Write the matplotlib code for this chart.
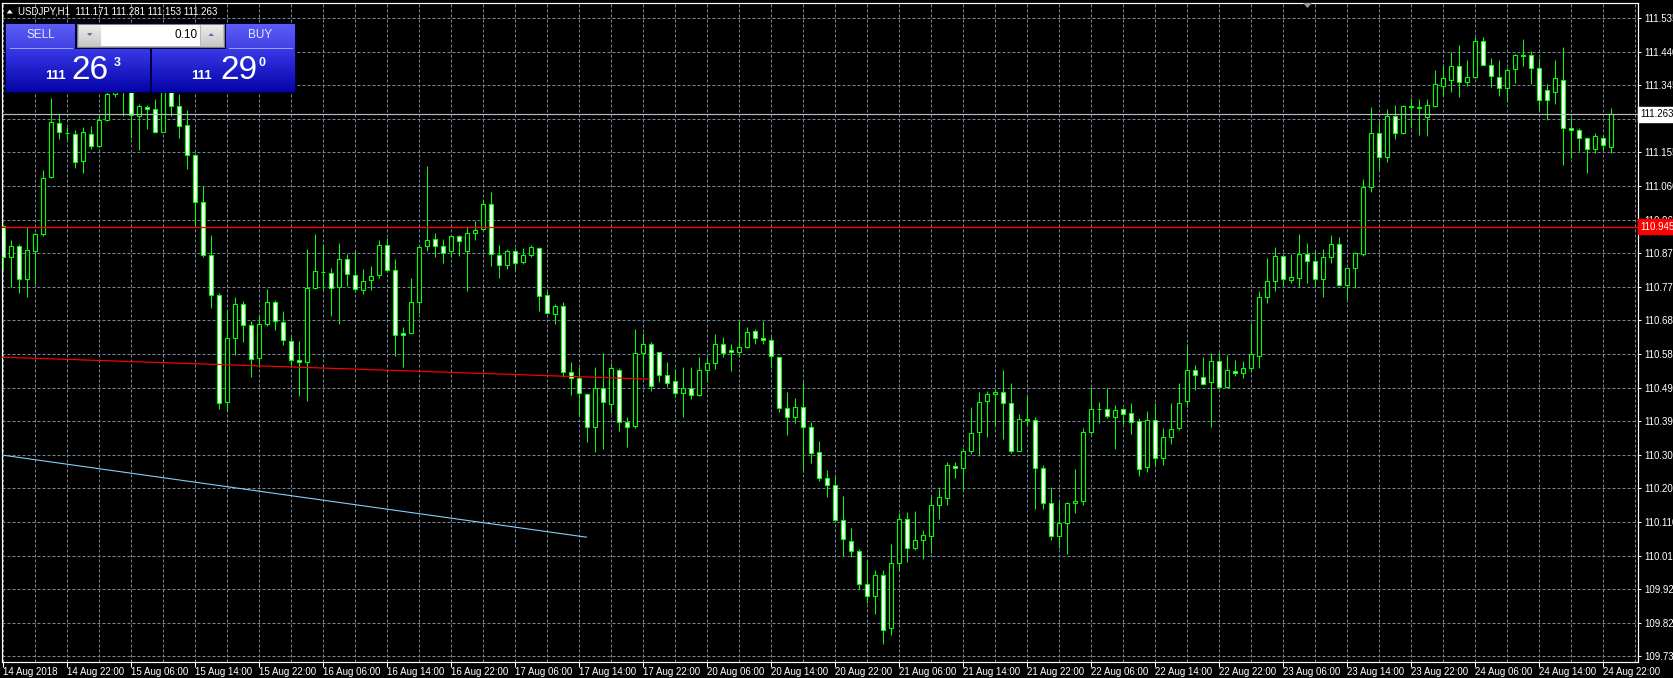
import matplotlib
matplotlib.use('Agg')
import matplotlib.pyplot as plt
import matplotlib.transforms as mtransforms
from matplotlib.patches import Rectangle, Polygon
import numpy as np

plt.rcParams['font.family'] = ['Liberation Sans', 'DejaVu Sans']

W, H, DPI = 1674, 678, 100

# ---------------- data (USDJPY H1, first bar = 14 Aug 2018 14:00) ----------------
opens = [110.946, 110.858, 110.891, 110.797, 110.876, 110.925, 111.085, 111.239, 111.210, 111.208,
         111.130, 111.208, 111.174, 111.247, 111.321, 111.360, 111.330, 111.258, 111.284, 111.278,
         111.212, 111.325, 111.287, 111.233, 111.148, 111.016, 110.866, 110.753, 110.450, 110.630,
         110.725, 110.666, 110.575, 110.671, 110.731, 110.676, 110.621, 110.568, 110.562, 110.771,
         110.818, 110.813, 110.773, 110.853, 110.808, 110.767, 110.794, 110.807, 110.892, 110.822,
         110.644, 110.644, 110.733, 110.890, 110.909, 110.890, 110.876, 110.918, 110.876, 110.926,
         110.938, 111.008, 110.864, 110.836, 110.876, 110.844, 110.864, 110.884, 110.751, 110.698,
         110.721, 110.533, 110.516, 110.473, 110.378, 110.488, 110.443, 110.539, 110.392, 110.380,
         110.589, 110.612, 110.590, 110.525, 110.508, 110.474, 110.488, 110.468, 110.539, 110.559,
         110.612, 110.595, 110.592, 110.606, 110.649, 110.629, 110.624, 110.576, 110.432, 110.406,
         110.434, 110.378, 110.307, 110.234, 110.214, 110.115, 110.057, 110.029, 109.935, 109.900,
         109.960, 109.810, 109.995, 110.119, 110.037, 110.060, 110.071, 110.159, 110.178, 110.269,
         110.263, 110.311, 110.365, 110.452, 110.472, 110.478, 110.447, 110.311, 110.402, 110.399,
         110.263, 110.164, 110.071, 110.108, 110.164, 110.170, 110.365, 110.430, 110.430, 110.407,
         110.430, 110.418, 110.395, 110.265, 110.397, 110.290, 110.350, 110.375, 110.452, 110.539,
         110.519, 110.507, 110.564, 110.493, 110.537, 110.531, 110.544, 110.578, 110.747, 110.790,
         110.863, 110.794, 110.799, 110.867, 110.847, 110.796, 110.858, 110.895, 110.781, 110.827,
         110.867, 111.056, 111.209, 111.141, 111.257, 111.210, 111.287, 111.282, 111.256, 111.286,
         111.343, 111.360, 111.398, 111.354, 111.367, 111.471, 111.403, 111.369, 111.336, 111.392,
         111.429, 111.429, 111.395, 111.330, 111.327, 111.361, 111.223, 111.217, 111.197, 111.166,
         111.197, 111.171]
highs = [110.949, 110.908, 110.897, 110.944, 110.927, 111.106, 111.309, 111.264, 111.226, 111.217,
         111.226, 111.230, 111.264, 111.340, 111.400, 111.390, 111.350, 111.292, 111.290, 111.306,
         111.345, 111.350, 111.319, 111.274, 111.153, 111.059, 110.921, 110.758, 110.710, 110.745,
         110.735, 110.679, 110.694, 110.770, 110.737, 110.707, 110.632, 110.622, 110.882, 110.923,
         110.895, 110.829, 110.899, 110.867, 110.876, 110.826, 110.833, 110.908, 110.912, 110.853,
         110.662, 110.801, 110.889, 111.116, 110.927, 110.910, 110.920, 110.922, 110.946, 110.961,
         111.019, 111.042, 110.892, 110.882, 110.884, 110.884, 110.892, 110.888, 110.764, 110.727,
         110.733, 110.562, 110.549, 110.475, 110.547, 110.587, 110.559, 110.544, 110.406, 110.655,
         110.643, 110.618, 110.592, 110.562, 110.543, 110.547, 110.547, 110.576, 110.577, 110.641,
         110.632, 110.612, 110.680, 110.660, 110.657, 110.677, 110.632, 110.577, 110.477, 110.460,
         110.505, 110.392, 110.338, 110.257, 110.240, 110.183, 110.092, 110.035, 110.002, 109.975,
         109.975, 110.049, 110.134, 110.138, 110.142, 110.088, 110.180, 110.210, 110.279, 110.281,
         110.320, 110.436, 110.478, 110.481, 110.487, 110.540, 110.504, 110.416, 110.466, 110.408,
         110.270, 110.210, 110.167, 110.167, 110.260, 110.376, 110.492, 110.450, 110.490, 110.441,
         110.433, 110.446, 110.405, 110.423, 110.446, 110.376, 110.446, 110.503, 110.610, 110.555,
         110.576, 110.587, 110.592, 110.583, 110.569, 110.566, 110.674, 110.762, 110.856, 110.887,
         110.865, 110.867, 110.923, 110.898, 110.879, 110.881, 110.921, 110.915, 110.829, 110.872,
         111.081, 111.282, 111.240, 111.279, 111.288, 111.289, 111.310, 111.305, 111.305, 111.389,
         111.402, 111.438, 111.458, 111.416, 111.480, 111.480, 111.421, 111.415, 111.395, 111.434,
         111.477, 111.443, 111.423, 111.347, 111.415, 111.454, 111.254, 111.223, 111.199, 111.211,
         111.203, 111.281]
lows = [110.826, 110.775, 110.758, 110.747, 110.782, 110.920, 111.083, 111.192, 111.192, 111.110,
        111.098, 111.164, 111.170, 111.245, 111.313, 111.257, 111.196, 111.161, 111.221, 111.210,
        111.212, 111.258, 111.196, 111.108, 110.944, 110.858, 110.716, 110.430, 110.425, 110.582,
        110.620, 110.521, 110.549, 110.664, 110.654, 110.611, 110.547, 110.467, 110.451, 110.769,
        110.768, 110.693, 110.671, 110.778, 110.759, 110.756, 110.765, 110.801, 110.818, 110.580,
        110.549, 110.643, 110.700, 110.875, 110.860, 110.841, 110.860, 110.861, 110.762, 110.907,
        110.935, 110.833, 110.801, 110.825, 110.824, 110.839, 110.858, 110.707, 110.700, 110.669,
        110.519, 110.469, 110.413, 110.337, 110.309, 110.317, 110.417, 110.366, 110.323, 110.375,
        110.519, 110.481, 110.507, 110.491, 110.463, 110.406, 110.457, 110.465, 110.505, 110.542,
        110.577, 110.538, 110.576, 110.603, 110.612, 110.612, 110.544, 110.422, 110.355, 110.389,
        110.251, 110.278, 110.225, 110.180, 110.114, 110.013, 110.011, 109.920, 109.880, 109.850,
        109.765, 109.790, 109.973, 109.997, 110.030, 110.005, 110.022, 110.118, 110.158, 110.234,
        110.201, 110.301, 110.296, 110.350, 110.381, 110.344, 110.305, 110.310, 110.382, 110.146,
        110.146, 110.060, 110.037, 110.020, 110.135, 110.159, 110.359, 110.389, 110.404, 110.317,
        110.387, 110.360, 110.240, 110.250, 110.270, 110.270, 110.330, 110.371, 110.434, 110.482,
        110.497, 110.379, 110.486, 110.491, 110.522, 110.516, 110.533, 110.544, 110.729, 110.762,
        110.776, 110.785, 110.773, 110.787, 110.778, 110.746, 110.842, 110.778, 110.740, 110.771,
        110.863, 111.044, 111.107, 111.129, 111.194, 111.207, 111.225, 111.204, 111.201, 111.282,
        111.314, 111.326, 111.312, 111.343, 111.365, 111.401, 111.340, 111.315, 111.298, 111.352,
        111.400, 111.347, 111.274, 111.248, 111.293, 111.120, 111.140, 111.158, 111.097, 111.152,
        111.158, 111.153]
closes = [110.858, 110.891, 110.797, 110.880, 110.925, 111.083, 111.242, 111.212, 111.209, 111.129,
          111.213, 111.174, 111.247, 111.321, 111.360, 111.330, 111.260, 111.287, 111.278, 111.212,
          111.325, 111.287, 111.230, 111.148, 111.016, 110.866, 110.753, 110.445, 110.630, 110.726,
          110.666, 110.572, 110.671, 110.731, 110.677, 110.624, 110.568, 110.562, 110.771, 110.819,
          110.816, 110.771, 110.853, 110.811, 110.768, 110.791, 110.805, 110.892, 110.822, 110.638,
          110.638, 110.732, 110.887, 110.907, 110.890, 110.870, 110.918, 110.904, 110.926, 110.935,
          111.008, 110.867, 110.836, 110.876, 110.842, 110.864, 110.887, 110.748, 110.700, 110.720,
          110.533, 110.516, 110.474, 110.378, 110.488, 110.449, 110.544, 110.392, 110.378, 110.587,
          110.612, 110.494, 110.525, 110.502, 110.474, 110.488, 110.468, 110.539, 110.559, 110.612,
          110.587, 110.590, 110.606, 110.646, 110.629, 110.624, 110.578, 110.432, 110.406, 110.434,
          110.378, 110.305, 110.234, 110.214, 110.115, 110.062, 110.029, 109.935, 109.900, 109.960,
          109.805, 109.995, 110.119, 110.037, 110.060, 110.074, 110.159, 110.181, 110.272, 110.263,
          110.311, 110.362, 110.449, 110.472, 110.478, 110.447, 110.311, 110.402, 110.399, 110.263,
          110.164, 110.071, 110.108, 110.164, 110.170, 110.365, 110.430, 110.429, 110.410, 110.427,
          110.416, 110.392, 110.260, 110.397, 110.290, 110.350, 110.374, 110.446, 110.539, 110.525,
          110.500, 110.564, 110.493, 110.541, 110.531, 110.544, 110.586, 110.746, 110.790, 110.863,
          110.796, 110.802, 110.867, 110.847, 110.796, 110.858, 110.895, 110.779, 110.827, 110.870,
          111.056, 111.209, 111.141, 111.257, 111.211, 111.285, 111.282, 111.281, 111.290, 111.347,
          111.364, 111.398, 111.354, 111.367, 111.471, 111.403, 111.372, 111.336, 111.389, 111.429,
          111.428, 111.395, 111.304, 111.304, 111.364, 111.223, 111.217, 111.197, 111.166, 111.200,
          111.175, 111.263]

title_text = "USDJPY,H1  111.171 111.281 111.153 111.263"
price_levels = [111.535, 111.440, 111.345, 111.250, 111.155, 111.060, 110.965, 110.870, 110.775,
                110.680, 110.585, 110.490, 110.395, 110.300, 110.205, 110.110, 110.015, 109.920,
                109.825, 109.730]
xtick_labels = ["14 Aug 2018", "14 Aug 22:00", "15 Aug 06:00", "15 Aug 14:00", "15 Aug 22:00",
                "16 Aug 06:00", "16 Aug 14:00", "16 Aug 22:00", "17 Aug 06:00", "17 Aug 14:00",
                "17 Aug 22:00", "20 Aug 06:00", "20 Aug 14:00", "20 Aug 22:00", "21 Aug 06:00",
                "21 Aug 14:00", "21 Aug 22:00", "22 Aug 06:00", "22 Aug 14:00", "22 Aug 22:00",
                "23 Aug 06:00", "23 Aug 14:00", "23 Aug 22:00", "24 Aug 06:00", "24 Aug 14:00",
                "24 Aug 22:00"]
red_level = 110.945
bid_price = 111.263
red_trend_x = [-0.16, 80.8]
red_trend_y = [110.576, 110.514]
blue_trend_x = [-0.41, 72.9]
blue_trend_y = [110.300, 110.067]
lot_text = "0.10"
sell_parts = ("111", "26", "3")
buy_parts = ("111", "29", "0")

# ---------------- figure ----------------
PX = 72.0 / DPI  # one pixel in points
fig = plt.figure(figsize=(W / DPI, H / DPI), dpi=DPI, facecolor='black')
ax = fig.add_axes([2 / W, 1 - 662 / H, (1638 - 2) / W, (662 - 3) / H])
ax.set_facecolor('black')

o = np.array(opens); h = np.array(highs); l = np.array(lows); c = np.array(closes)
idx = np.arange(len(o))
bull = c >= o
lime = '#00ff00'

ax.vlines(idx, l, h, color=lime, lw=1.0 * PX, zorder=3)
ax.bar(idx, np.abs(c - o), bottom=np.minimum(o, c), width=0.5,
       color=np.where(bull, 'black', 'white'), edgecolor=lime, linewidth=1.1 * PX, zorder=4)

ax.set_xlim(-0.1625, 204.34)
ax.set_ylim(109.7141, 111.5774)

# lines
ax.axhline(red_level, color='#ff0000', lw=1.3 * PX, zorder=5)
ax.axhline(bid_price, color='#b8b8c0', lw=1.2 * PX, zorder=5)
ax.plot(red_trend_x, red_trend_y, color='#ff0000', lw=1.2 * PX, zorder=5)
ax.plot(blue_trend_x, blue_trend_y, color='#87cefa', lw=1.1 * PX, zorder=5)

# ticks / grid
ax.yaxis.tick_right()
ax.set_yticks(price_levels)
ax.set_yticklabels([f"{p:.3f}" for p in price_levels])
label_idx = list(range(0, 8 * len(xtick_labels), 8))
ax.set_xticks(label_idx)
ax.set_xticklabels(xtick_labels, ha='left')
ax.set_xticks(list(range(4, 205, 8)), minor=True)
ax.tick_params(axis='y', which='major', direction='out', length=3 * PX, width=1 * PX,
               color='white', labelcolor='white', labelsize=7, pad=2.5)
ax.tick_params(axis='x', which='major', direction='out', length=4.5 * PX, width=1 * PX,
               color='white', labelcolor='white', labelsize=7, pad=0.5)
ax.tick_params(axis='x', which='minor', length=0)
ax.grid(True, which='both', color='#778899', lw=1 * PX, linestyle=(0, (3, 2)))
ax.set_axisbelow(True)
for s in ax.spines.values():
    s.set_color('white')
    s.set_linewidth(1.2 * PX)

# price labels on the right axis
blend = mtransforms.blended_transform_factory(ax.transAxes, ax.transData)
ax.text(1.0015, red_level, "110.945", transform=blend, ha='left', va='center', color='white',
        fontsize=7, clip_on=False, zorder=20,
        bbox=dict(boxstyle='square,pad=0.25', fc='#ff0000', ec='#ff0000'))
ax.text(1.0015, bid_price, "111.263", transform=blend, ha='left', va='center', color='black',
        fontsize=7, clip_on=False, zorder=20,
        bbox=dict(boxstyle='square,pad=0.25', fc='white', ec='white'))

# ---------------- overlay (title + one-click panel) ----------------
ov = fig.add_axes([0, 0, 1, 1])
ov.set_zorder(10)
ov.patch.set_alpha(0)
ov.axis('off')


def grad(x0, y0, x1, y1, ctop, cbot, z=11):
    t = np.linspace(0, 1, 64)[:, None, None]
    img = np.array(ctop)[None, None, :] * (1 - t) + np.array(cbot)[None, None, :] * t
    ov.imshow(img / 255.0, extent=(x0, x1, y1, y0), aspect='auto', interpolation='bilinear', zorder=z)


def rect(x0, y0, x1, y1, fc, ec='none', lw=0.0, z=11):
    ov.add_patch(Rectangle((x0, y0), x1 - x0, y1 - y0, fc=fc, ec=ec, lw=lw, zorder=z))


# title
ov.add_patch(Polygon([(6.7, 13.5), (12.7, 13.5), (9.7, 9.5)], closed=True, fc='white', ec='none', zorder=12))
ov.text(18, 11.7, title_text, color='white', fontsize=7, ha='left', va='center', zorder=12)

# shift marker
ov.add_patch(Polygon([(1303, 3), (1312, 3), (1307.5, 8)], closed=True, fc='#9a9a9a', ec='none', zorder=12))

# panel background
rect(5, 23, 296, 93, '#000040', z=10)
# SELL / BUY buttons
grad(6, 24, 75, 49, (92, 92, 245), (66, 66, 228))
grad(226, 24, 295, 49, (92, 92, 245), (66, 66, 228))
ov.plot([10, 72], [48.3, 48.3], color='#a0a0ff', lw=1 * PX, zorder=12)
ov.plot([229, 292], [48.3, 48.3], color='#a0a0ff', lw=1 * PX, zorder=12)
# price boxes
grad(6, 49.5, 150, 92, (56, 56, 232), (4, 4, 168))
grad(152, 49.5, 295, 92, (56, 56, 232), (4, 4, 168))
# lot control
rect(77.5, 24, 224, 47, '#b8b8b8', ec='#808080', lw=1 * PX, z=11)
grad(79, 25, 100.5, 46, (236, 236, 236), (200, 200, 200), z=12)
grad(200.7, 25, 222.3, 46, (236, 236, 236), (200, 200, 200), z=12)
rect(100.7, 25, 200.5, 46, 'white', z=12)
ov.add_patch(Polygon([(87, 33), (92.5, 33), (89.75, 36)], closed=True, fc='#6070a0', ec='none', zorder=13))
ov.add_patch(Polygon([(208.5, 36), (214, 36), (211.25, 33)], closed=True, fc='#6070a0', ec='none', zorder=13))

ov.text(41, 35.5, "SELL", color='#e8e8ff', fontsize=8.5, ha='center', va='center', zorder=13)
ov.text(260, 35.5, "BUY", color='#e8e8ff', fontsize=8.5, ha='center', va='center', zorder=13)
ov.text(197.5, 35, lot_text, color='black', fontsize=8.5, ha='right', va='center', zorder=13)

for (x_small, x_big, x_sup), parts in (((55, 90, 117), sell_parts), ((201, 238.5, 262), buy_parts)):
    ov.text(x_small, 79, parts[0], color='white', fontsize=9.5, fontweight='bold',
            ha='center', va='baseline', zorder=13)
    ov.text(x_big, 79, parts[1], color='white', fontsize=24, ha='center', va='baseline', zorder=13)
    ov.text(x_sup, 66.5, parts[2], color='white', fontsize=9, fontweight='bold',
            ha='center', va='baseline', zorder=13)

ov.set_xlim(0, W)
ov.set_ylim(H, 0)

fig.savefig('out.png', dpi=DPI, facecolor='black')
